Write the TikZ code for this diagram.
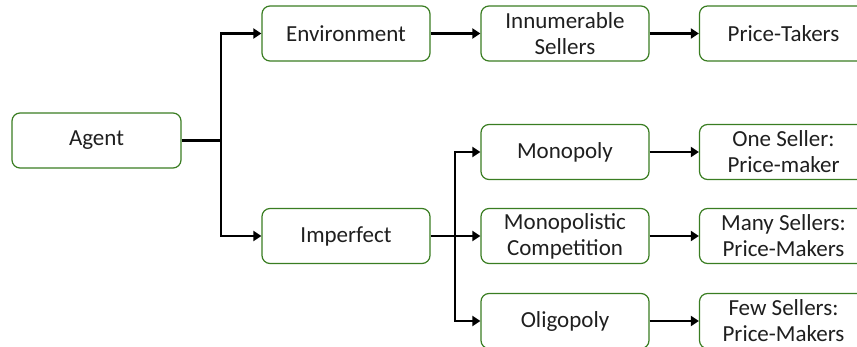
\documentclass[tikz,border=0pt]{standalone}
\usepackage{fontspec}
\setmainfont{Carlito}
\usetikzlibrary{arrows.meta}
\definecolor{boxgreen}{HTML}{3A7D22}
\tikzset{
  x=1pt, y=-1pt,
  box/.style={draw=boxgreen, line width=1.2pt, rounded corners=8pt, fill=white,
    minimum width=168pt, minimum height=55pt, inner sep=2pt, align=center,
    font=\fontsize{23}{26}\selectfont, text=black!88},
  link/.style={draw=black, line width=2.2pt, -{Triangle[length=8pt,width=10pt]}},
  plain/.style={draw=black, line width=2.2pt}
}
\begin{document}
\begin{tikzpicture}
\useasboundingbox (0,0) rectangle (857,347);
\clip (0,0) rectangle (857,347);

% first column
\node[box, minimum width=169pt] (agent) at (96.5,140.5) {Agent};

% second column
\node[box] (env) at (346,33.5) {Environment};
\node[box] (imp) at (346,236) {Imperfect};

% third column
\node[box] (innum) at (565,33.5) {Innumerable\\Sellers};
\node[box] (mono) at (565,152) {Monopoly};
\node[box] (mcomp) at (565,236) {Monopolistic\\Competition};
\node[box] (oligo) at (565,321) {Oligopoly};

% fourth column
\node[box] (taker) at (783.5,33.5) {Price-Takers};
\node[box] (one) at (783.5,152) {One Seller:\\Price-maker};
\node[box] (many) at (783.5,236) {Many Sellers:\\Price-Makers};
\node[box] (few) at (783.5,321) {Few Sellers:\\Price-Makers};

% branch points
\coordinate (j1) at (221,140.5);
\coordinate (j2) at (455,236);

% connectors
\draw[plain] (agent.east) -- (j1);
\draw[link] (j1) |- (env.west);
\draw[link] (j1) |- (imp.west);

\draw[plain] (imp.east) -- (j2);
\draw[link] (j2) |- (mono.west);
\draw[link] (j2) -- (mcomp.west);
\draw[link] (j2) |- (oligo.west);

\draw[link] (env.east) -- (innum.west);
\draw[link] (innum.east) -- (taker.west);
\draw[link] (mono.east) -- (one.west);
\draw[link] (mcomp.east) -- (many.west);
\draw[link] (oligo.east) -- (few.west);
\end{tikzpicture}
\end{document}
